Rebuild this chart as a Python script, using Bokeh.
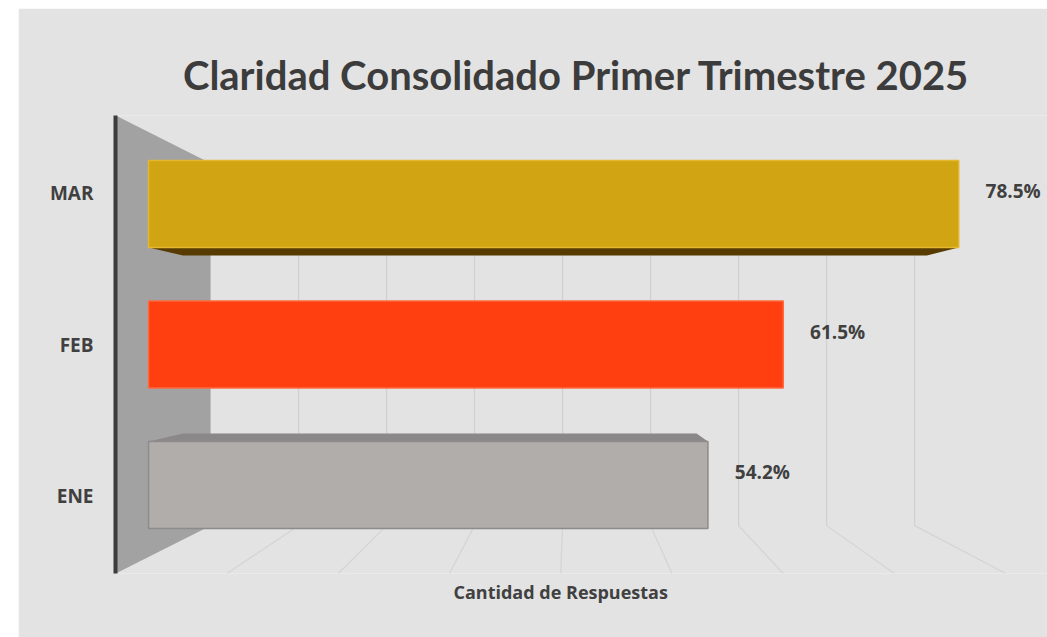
from bokeh.plotting import figure
from bokeh.models import FixedTicker, Range1d, Spacer, Title
from bokeh.layouts import row, column
from bokeh.embed import file_html
from bokeh.resources import INLINE
from bokeh.core.properties import value

# ---------------- data ----------------
CATEGORIES = ["ENE", "FEB", "MAR"]
VALUES = [54.2, 61.5, 78.5]
LABELS = ["54.2%", "61.5%", "78.5%"]
GRID_TICKS = [10, 20, 30, 40, 50, 60, 70, 80]
TITLE = "Claridad  Consolidado Primer Trimestre 2025"
X_LABEL = "Cantidad de Respuestas"

# ---------------- style ----------------
FRONT_COLORS = ["#b0adab", "#ff3f0f", "#d0a412"]
LINE_COLORS = ["#8e8c8b", "#ff6a40", "#e2b830"]
SIDE_COLORS = ["#8a8888", "#c83000", "#573b00"]
BAR_H = 0.62
TEXT = "#404040"
BG = "#e3e3e3"

# perspective model (data units)
VX, VY = 40.8, 1.0          # vanishing point
S_BAR_BACK = 0.918          # depth scale of bar back faces
S_WALL = 0.8527             # depth scale of back wall
S_FRONT = 1.078             # depth scale of wall front edge
U_LO, U_HI = -0.512, 2.512  # wall vertical extent (front-plane units)


def proj(v, u, s):
    return VX + s * (v - VX), VY + s * (u - VY)


p = figure(width=1029, height=629, output_backend="svg", toolbar_location=None,
           x_range=Range1d(-3.2, 87.1), y_range=Range1d(-0.63, 2.63),
           min_border_left=97, min_border_right=0, min_border_top=107,
           min_border_bottom=64)
p.background_fill_color = BG
p.border_fill_color = BG
p.outline_line_color = None
p.xgrid.visible = False
p.ygrid.visible = False

# title
p.title.text = TITLE
p.title.align = "center"
p.title.text_font = "Lato"
p.title.text_font_style = "bold"
p.title.text_font_size = "40px"
p.title.text_color = "#3c3c3c"
p.title.standoff = 33

# back-wall gridlines and floor lines
gx0, gy0, gx1, gy1 = [], [], [], []
fx0, fy0, fx1, fy1 = [], [], [], []
for t in GRID_TICKS:
    a = proj(t, U_HI, S_WALL)
    b = proj(t, U_LO, S_WALL)
    c = proj(t, U_LO, S_FRONT)
    gx0.append(a[0]); gy0.append(a[1]); gx1.append(b[0]); gy1.append(b[1])
    fx0.append(b[0]); fy0.append(b[1]); fx1.append(c[0]); fy1.append(c[1])
p.segment(gx0, gy0, gx1, gy1, line_color="#d0d0d0", line_width=1.2)
p.segment(fx0, fy0, fx1, fy1, line_color="#d4d4d4", line_width=1.2)

# left wall
corners = [proj(0, U_HI, S_FRONT), proj(0, U_HI, S_WALL),
           proj(0, U_LO, S_WALL), proj(0, U_LO, S_FRONT)]
p.patch([c[0] for c in corners], [c[1] for c in corners],
        fill_color="#a2a2a2", line_color=None)

# bar side faces (top or bottom, depending on position relative to vanishing point)
sxs, sys_, scol = [], [], []
for i, val in enumerate(VALUES):
    top, bot = i + BAR_H / 2, i - BAR_H / 2
    if top < VY:
        edge = top
    elif bot > VY:
        edge = bot
    else:
        continue
    pts = [proj(0, edge, 1.0), proj(val, edge, 1.0),
           proj(val, edge, S_BAR_BACK), proj(0, edge, S_BAR_BACK)]
    sxs.append([q[0] for q in pts]); sys_.append([q[1] for q in pts])
    scol.append(SIDE_COLORS[i])
p.patches(sxs, sys_, fill_color=scol, line_color=None)

# bar front faces
p.hbar(y=list(range(len(CATEGORIES))), left=0, right=VALUES, height=BAR_H,
       fill_color=FRONT_COLORS, line_color=LINE_COLORS, line_width=1.5)

# data labels
p.text(x=[v + 2.6 for v in VALUES], y=[i + 0.09 for i in range(len(VALUES))],
       text=LABELS, text_font=value("Open Sans"), text_font_style="bold",
       text_font_size="19px", text_color=TEXT, text_baseline="middle",
       text_align="left")

# y axis (wall front edge); category labels sit on the wall's front plane
tick_pos = [round(proj(0, i, S_FRONT)[1], 3) for i in range(len(CATEGORIES))]
yax = p.yaxis[0]
yax.ticker = FixedTicker(ticks=tick_pos)
yax.major_label_overrides = {t: c for t, c in zip(tick_pos, CATEGORIES)}
yax.axis_line_color = "#3c3c3c"
yax.axis_line_width = 4
yax.major_tick_line_color = None
yax.minor_tick_line_color = None
yax.major_label_standoff = 16
yax.major_label_text_font = "Open Sans"
yax.major_label_text_font_style = "bold"
yax.major_label_text_font_size = "19px"
yax.major_label_text_color = TEXT

# x axis hidden; its label as a title below the frame
p.xaxis.visible = False
xt = Title(text=X_LABEL, align="left", offset=338, standoff=8,
           text_font="Open Sans", text_font_style="bold",
           text_font_size="18px", text_color=TEXT)
p.add_layout(xt, "below")

layout = column(Spacer(width=1047, height=8), row(Spacer(width=18, height=629), p))
open("out.html", "w").write(file_html(layout, INLINE))
